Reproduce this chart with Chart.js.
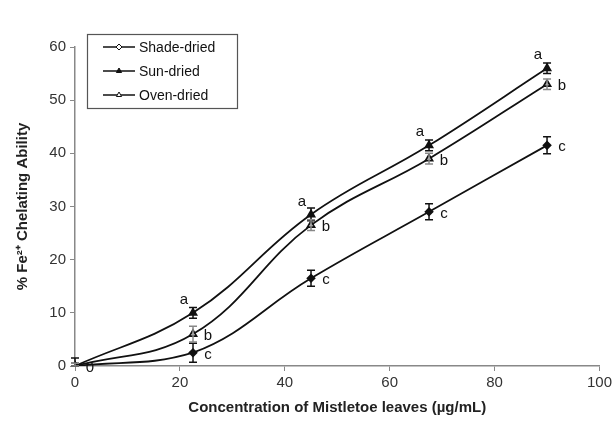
<!DOCTYPE html>
<html lang="en">
<head>
    <meta charset="UTF-8">
    <title>Fe2+ Chelating Ability</title>
    <style>
        body { margin: 0; background: #fff; }
        #wrap { width: 615px; height: 423px; }
    </style>
    <script src="https://cdn.jsdelivr.net/npm/chart.js"></script>
</head>
<body>
    <div id="wrap"><canvas id="chelChart" width="615" height="423"></canvas></div>
    <script>
        // concentrations (ug/mL)
        const concentrations = [0, 22.5, 45, 67.5, 90];

        const seriesNames = ['Shade-dried', 'Sun-dried', 'Oven-dried'];
        const shadeValues = [0, 2.5, 16.5, 29, 41.5];
        const sunValues = [0, 10, 28.5, 41.5, 56];
        const ovenValues = [0, 6, 26.5, 39, 53];

        const shadeErrors = [1.5, 1.8, 1.5, 1.5, 1.6];
        const sunErrors = [0.5, 1, 1.2, 1, 1];
        const ovenErrors = [0.5, 1.5, 1, 1, 1];

        const shadeLetters = ['0', 'c', 'c', 'c', 'c'];
        const sunLetters = ['', 'a', 'a', 'a', 'a'];
        const ovenLetters = ['', 'b', 'b', 'b', 'b'];

        const xTicks = [0, 20, 40, 60, 80, 100];
        const yTicks = [0, 10, 20, 30, 40, 50, 60];

        const toPoints = vals => vals.map((v, i) => ({ x: concentrations[i], y: v }));

        const baseFont = "'Liberation Sans', Arial, sans-serif";

        // error bars + significance letters
        const errorBarPlugin = {
            id: 'errorBars',
            afterDatasetsDraw(chart) {
                const ctx = chart.ctx;
                const xs = chart.scales.x, ys = chart.scales.y;
                chart.data.datasets.forEach(ds => {
                    ctx.save();
                    ctx.strokeStyle = ds.errColor;
                    ctx.lineWidth = 1.5;
                    ds.data.forEach((p, i) => {
                        const px = xs.getPixelForValue(p.x);
                        const top = ys.getPixelForValue(p.y + ds.errors[i]);
                        const bot = ys.getPixelForValue(Math.max(0, p.y - ds.errors[i]));
                        ctx.beginPath();
                        ctx.moveTo(px, top); ctx.lineTo(px, bot);
                        ctx.moveTo(px - 4, top); ctx.lineTo(px + 4, top);
                        ctx.moveTo(px - 4, bot); ctx.lineTo(px + 4, bot);
                        ctx.stroke();
                    });
                    ctx.fillStyle = '#111';
                    ctx.font = '15px ' + baseFont;
                    ctx.textBaseline = 'middle';
                    ds.data.forEach((p, i) => {
                        const lbl = ds.letters[i];
                        if (!lbl) return;
                        const px = xs.getPixelForValue(p.x);
                        const py = ys.getPixelForValue(p.y);
                        ctx.textAlign = 'center';
                        if (ds.letterPos === 'above') {
                            ctx.fillText(lbl, px - 9, py - 13);
                        } else {
                            ctx.fillText(lbl, px + 15, py + 2);
                        }
                    });
                    ctx.restore();
                });
            }
        };

        // legend box inside the plot
        const boxLegendPlugin = {
            id: 'boxLegend',
            afterDraw(chart) {
                const ctx = chart.ctx;
                ctx.save();
                ctx.strokeStyle = '#555';
                ctx.lineWidth = 1.2;
                ctx.strokeRect(87.5, 34.5, 150, 74);
                ctx.font = '14px ' + baseFont;
                ctx.textBaseline = 'middle';
                ctx.textAlign = 'left';
                chart.data.datasets.forEach((ds, i) => {
                    const y = 47 + i * 24;
                    ctx.strokeStyle = '#111';
                    ctx.lineWidth = 1.5;
                    ctx.beginPath();
                    ctx.moveTo(103, y); ctx.lineTo(135, y);
                    ctx.stroke();
                    ctx.fillStyle = ds.legendFill;
                    ctx.lineWidth = 1;
                    Chart.helpers.drawPoint(ctx, {
                        pointStyle: ds.pointStyle,
                        radius: 3,
                        borderWidth: 1
                    }, 119, y);
                    ctx.fillStyle = '#111';
                    ctx.fillText(ds.label, 139, y + 1);
                });
                ctx.restore();
            }
        };

        const ctx = document.getElementById('chelChart').getContext('2d');
        const chelChart = new Chart(ctx, {
            type: 'line',
            data: {
                datasets: [
                    {
                        label: seriesNames[0],
                        data: toPoints(shadeValues),
                        errors: shadeErrors,
                        letters: shadeLetters,
                        letterPos: 'right',
                        errColor: '#111',
                        legendFill: '#fff',
                        borderColor: '#111',
                        backgroundColor: '#111',
                        pointStyle: 'rectRot',
                        pointRadius: 3.5,
                        borderWidth: 1.8,
                        tension: 0.4
                    },
                    {
                        label: seriesNames[1],
                        data: toPoints(sunValues),
                        errors: sunErrors,
                        letters: sunLetters,
                        letterPos: 'above',
                        errColor: '#111',
                        legendFill: '#111',
                        borderColor: '#111',
                        backgroundColor: '#111',
                        pointStyle: 'triangle',
                        pointRadius: 4,
                        borderWidth: 1.8,
                        tension: 0.4
                    },
                    {
                        label: seriesNames[2],
                        data: toPoints(ovenValues),
                        errors: ovenErrors,
                        letters: ovenLetters,
                        letterPos: 'right',
                        errColor: '#888',
                        legendFill: '#fff',
                        borderColor: '#111',
                        backgroundColor: '#fff',
                        pointStyle: 'triangle',
                        pointRadius: 4,
                        borderWidth: 1.8,
                        tension: 0.4
                    }
                ]
            },
            options: {
                responsive: false,
                animation: false,
                layout: { padding: { top: 47, right: 15, left: 14, bottom: 0 } },
                plugins: {
                    legend: { display: false },
                    tooltip: { enabled: false }
                },
                scales: {
                    x: {
                        type: 'linear',
                        min: 0,
                        max: 100,
                        afterBuildTicks: axis => { axis.ticks = xTicks.map(v => ({ value: v })); },
                        grid: { drawOnChartArea: false, drawTicks: true, tickLength: 5, color: '#888' },
                        border: { color: '#888', width: 1.5 },
                        ticks: { color: '#333', font: { size: 15, family: baseFont }, padding: 3 },
                        title: {
                            display: true,
                            text: 'Concentration of Mistletoe leaves (\u00b5g/mL)',
                            color: '#222',
                            font: { size: 15, weight: 'bold', family: baseFont },
                            padding: { top: 14, bottom: 6 }
                        },
                        afterFit: axis => { axis.height = 57; }
                    },
                    y: {
                        min: 0,
                        max: 60,
                        afterBuildTicks: axis => { axis.ticks = yTicks.map(v => ({ value: v })); },
                        grid: { drawOnChartArea: false, drawTicks: true, tickLength: 5, color: '#888' },
                        border: { color: '#888', width: 1.5 },
                        ticks: { color: '#333', font: { size: 15, family: baseFont }, padding: 4 },
                        title: {
                            display: true,
                            text: '% Fe\u00b2\u207a Chelating Ability',
                            color: '#222',
                            font: { size: 15, weight: 'bold', family: baseFont },
                            padding: { top: 0, bottom: 8 }
                        },
                        afterFit: axis => { axis.width = 61; }
                    }
                }
            },
            plugins: [errorBarPlugin, boxLegendPlugin]
        });
    </script>
</body>
</html>
